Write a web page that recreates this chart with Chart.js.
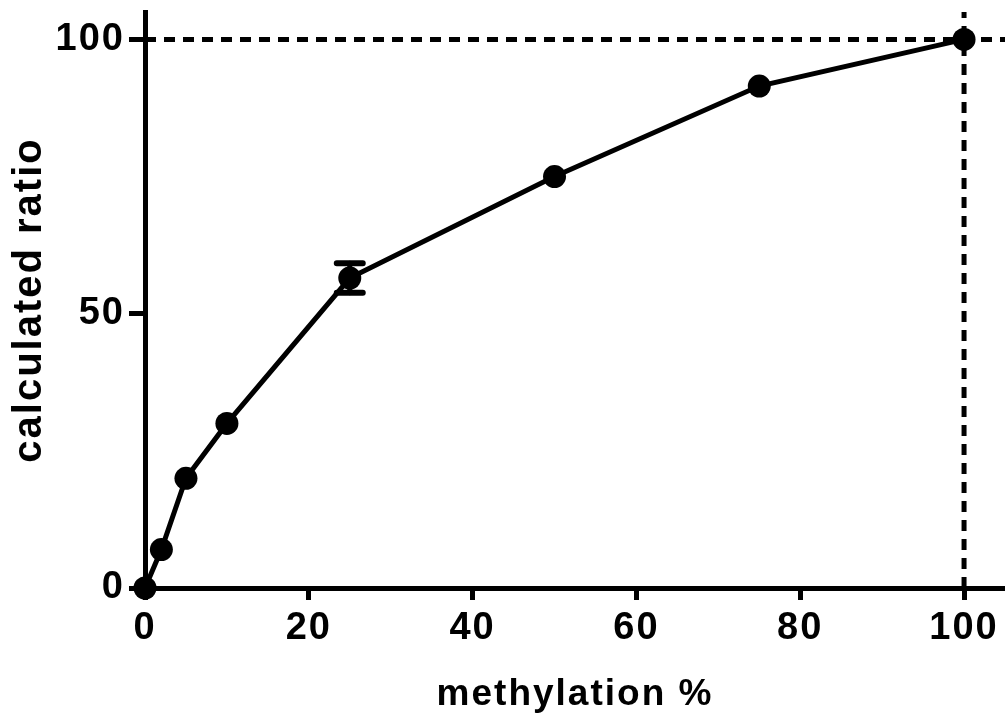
<!DOCTYPE html>
<html>
<head>
<meta charset="utf-8">
<script src="https://cdn.jsdelivr.net/npm/chart.js@4/dist/chart.umd.min.js"></script>
<style>
  html, body { margin: 0; padding: 0; background: #fff; }
  #wrap { width: 1005px; height: 717px; }
</style>
</head>
<body>
<div id="wrap"><canvas id="c" width="1005" height="717"></canvas></div>
<script>
const methylation = [0, 2, 5, 10, 25, 50, 75, 100];
const ratio = [0, 7, 20, 30, 56.5, 75, 91.5, 100];
const ratioErr = [0, 0, 0, 0, 2.7, 0, 0, 0];
const xTicks = [0, 20, 40, 60, 80, 100];
const yTicks = [0, 50, 100];
const refX = 100;
const refY = 100;
const axisMax = 105;

const FONT = "'Liberation Sans', Arial, sans-serif";

const spacing = {
  id: 'spacing',
  beforeDraw(chart) { chart.ctx.letterSpacing = '2px'; }
};

const errorBars = {
  id: 'errorBars',
  afterDatasetsDraw(chart) {
    const ctx = chart.ctx;
    const xs = chart.scales.x, ys = chart.scales.y;
    ctx.save();
    ctx.strokeStyle = '#000';
    ctx.lineCap = 'round';
    methylation.forEach((m, i) => {
      const e = ratioErr[i];
      if (!e) return;
      const px = xs.getPixelForValue(m);
      const top = ys.getPixelForValue(ratio[i] + e);
      const bot = ys.getPixelForValue(ratio[i] - e);
      ctx.lineWidth = 5;
      ctx.beginPath(); ctx.moveTo(px, top); ctx.lineTo(px, bot); ctx.stroke();
      ctx.lineWidth = 6;
      ctx.beginPath();
      ctx.moveTo(px - 13, top); ctx.lineTo(px + 13, top);
      ctx.moveTo(px - 13, bot); ctx.lineTo(px + 13, bot);
      ctx.stroke();
    });
    ctx.restore();
  }
};

function zeroPad(s) { s.paddingLeft = 0; s.paddingRight = 0; s.paddingTop = 0; s.paddingBottom = 0; }

new Chart(document.getElementById('c'), {
  type: 'scatter',
  data: {
    datasets: [
      {
        data: [{x: 0, y: refY}, {x: axisMax, y: refY}],
        showLine: true, borderColor: '#000', borderWidth: 5, borderDash: [11, 8],
        pointRadius: 0, order: 3, clip: false
      },
      {
        data: [{x: refX, y: 0}, {x: refX, y: axisMax}],
        showLine: true, borderColor: '#000', borderWidth: 5, borderDash: [11, 8],
        pointRadius: 0, order: 2, clip: false
      },
      {
        data: methylation.map((m, i) => ({x: m, y: ratio[i]})),
        showLine: true, borderColor: '#000', borderWidth: 5,
        pointRadius: 11.5, pointBackgroundColor: '#000', pointBorderColor: '#000',
        pointBorderWidth: 0, order: 1, clip: false
      }
    ]
  },
  options: {
    responsive: false,
    animation: false,
    events: [],
    layout: { autoPadding: false, padding: { top: 12, right: 0, left: 0, bottom: 0 } },
    plugins: { legend: { display: false }, tooltip: { enabled: false } },
    scales: {
      x: {
        type: 'linear', min: 0, max: axisMax,
        afterFit(s) { s.height = 129; zeroPad(s); },
        afterBuildTicks(s) { s.ticks = xTicks.map(v => ({value: v})); },
        grid: { drawOnChartArea: false, drawTicks: true, tickLength: 12, tickWidth: 5, tickColor: '#000' },
        border: { display: true, color: '#000', width: 5 },
        ticks: { color: '#000', padding: 6, font: { family: FONT, size: 38, weight: 'bold' }, maxRotation: 0 },
        title: { display: true, text: 'methylation %', color: '#000', padding: { top: 0, bottom: 0 },
                 font: { family: FONT, size: 37, weight: 'bold' } }
      },
      y: {
        type: 'linear', min: 0, max: axisMax,
        afterFit(s) { s.width = 145; zeroPad(s); },
        afterBuildTicks(s) { s.ticks = yTicks.map(v => ({value: v})); },
        grid: { drawOnChartArea: false, drawTicks: true, tickLength: 16, tickWidth: 5, tickColor: '#000' },
        border: { display: true, color: '#000', width: 5 },
        ticks: { color: '#000', padding: 4, font: { family: FONT, size: 38, weight: 'bold' } },
        title: { display: true, text: 'calculated ratio', color: '#000', padding: { top: 6, bottom: 0 },
                 font: { family: FONT, size: 40, weight: 'bold' } }
      }
    }
  },
  plugins: [spacing, errorBars]
});
</script>
</body>
</html>
